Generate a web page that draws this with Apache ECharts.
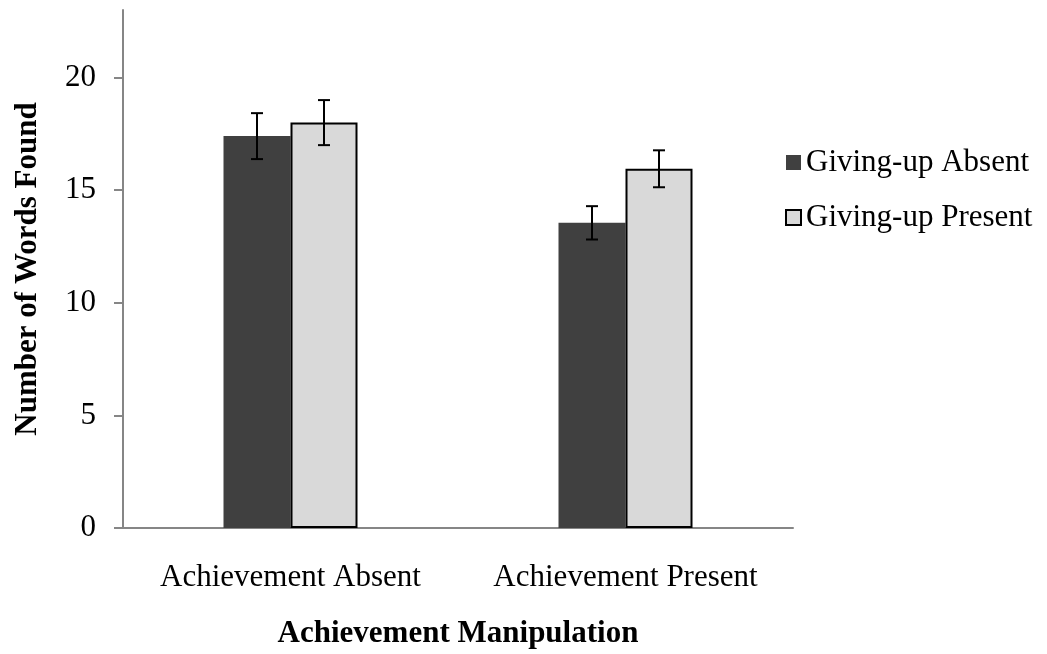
<!DOCTYPE html>
<html>
<head>
<meta charset="utf-8">
<script src="https://cdn.jsdelivr.net/npm/echarts@6/dist/echarts.min.js"></script>
<style>
  html, body { margin: 0; padding: 0; background: #fff; }
  #chart { width: 1047px; height: 654px; }
</style>
</head>
<body>
<div id="chart"></div>
<script>
const categories = ['Achievement Absent', 'Achievement Present'];
const seriesNames = ['Giving-up Absent', 'Giving-up Present'];
const absentMeans = [17.4, 13.55];
const presentMeans = [18.0, 15.95];
const absentErr = [1.02, 0.74];
const presentErr = [1.0, 0.82];
const yTicks = [0, 5, 10, 15, 20];

const chart = echarts.init(document.getElementById('chart'));
const font = '"Liberation Serif", "Times New Roman", serif';
const axisGray = '#868686';
const barCategoryGap = 0.6;
const fs = 31;

// error bar drawn on top of each bar, offset to the bar's half of the band
function errorRenderer(seriesIdx) {
  return function (params, api) {
    const cat = api.value(0);
    const mean = api.value(1);
    const err = api.value(2);
    const band = api.size([1, 0])[0];
    const barW = band * (1 - barCategoryGap) / 2;
    const dx = seriesIdx === 0 ? -barW / 2 : barW / 2;
    const hi = api.coord([cat, mean + err]);
    const lo = api.coord([cat, mean - err]);
    const x = hi[0] + dx;
    const cap = 6;
    const style = { stroke: '#000', lineWidth: 2 };
    return {
      type: 'group',
      children: [
        { type: 'line', shape: { x1: x, y1: hi[1], x2: x, y2: lo[1] }, style },
        { type: 'line', shape: { x1: x - cap, y1: hi[1], x2: x + cap, y2: hi[1] }, style },
        { type: 'line', shape: { x1: x - cap, y1: lo[1], x2: x + cap, y2: lo[1] }, style }
      ]
    };
  };
}

const option = {
  animation: false,
  textStyle: { fontFamily: font },
  grid: { left: 123, right: 254, top: 10, bottom: 126, outerBoundsMode: 'none', containLabel: false },
  legend: {
    data: seriesNames,
    orient: 'vertical',
    left: 780,
    top: 142,
    icon: 'rect',
    itemWidth: 15,
    itemHeight: 15,
    itemGap: 24,
    textStyle: { fontFamily: font, fontSize: fs, color: '#000', padding: [0, 0, 0, 0] }
  },
  xAxis: {
    type: 'category',
    data: categories,
    name: 'Achievement Manipulation',
    nameLocation: 'middle',
    nameGap: 90,
    nameTextStyle: { fontFamily: font, fontSize: fs, fontWeight: 'bold', color: '#000' },
    axisLine: { lineStyle: { color: axisGray, width: 2 } },
    axisTick: { show: false },
    axisLabel: { fontFamily: font, fontSize: fs, color: '#000', margin: 34, interval: 0 }
  },
  yAxis: {
    type: 'value',
    min: 0,
    max: 23,
    interval: 5,
    name: 'Number of Words Found',
    nameLocation: 'middle',
    nameGap: 80,
    nameTextStyle: { fontFamily: font, fontSize: fs, fontWeight: 'bold', color: '#000' },
    splitLine: { show: false },
    axisLine: { show: true, lineStyle: { color: axisGray, width: 2 } },
    axisTick: { show: true, length: 9, lineStyle: { color: axisGray, width: 2 }, customValues: yTicks },
    axisLabel: { fontFamily: font, fontSize: fs, color: '#000', margin: 27, customValues: yTicks }
  },
  series: [
    {
      name: seriesNames[0],
      type: 'bar',
      data: absentMeans,
      barGap: '0%',
      barCategoryGap: (barCategoryGap * 100) + '%',
      itemStyle: { color: '#404040' }
    },
    {
      name: seriesNames[1],
      type: 'bar',
      data: presentMeans,
      itemStyle: { color: '#d9d9d9', borderColor: '#000', borderWidth: 2 }
    },
    {
      type: 'custom',
      renderItem: errorRenderer(0),
      data: absentMeans.map((m, i) => [i, m, absentErr[i]]),
      z: 10
    },
    {
      type: 'custom',
      renderItem: errorRenderer(1),
      data: presentMeans.map((m, i) => [i, m, presentErr[i]]),
      z: 10
    }
  ]
};

chart.setOption(option);
</script>
</body>
</html>
